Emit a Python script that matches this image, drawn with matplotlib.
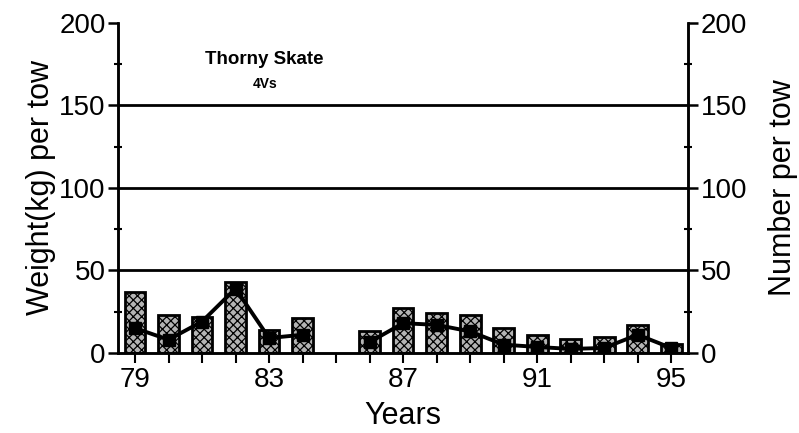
import numpy as np
import matplotlib.pyplot as plt
from matplotlib.ticker import MultipleLocator

plt.rcParams['font.family'] = ['Liberation Sans', 'DejaVu Sans']
plt.rcParams['hatch.linewidth'] = 0.9

# survey years (no tow data in 1985)
years = [79, 80, 81, 82, 83, 84, 85, 86, 87, 88, 89, 90, 91, 92, 93, 94, 95]
weight = [37, 23, 22, 43, 14, 21, np.nan, 13, 27, 24, 23, 15, 11, 8.5, 9.5, 17, 5.5]
number = [15, 8, 19, 39, 9, 11, np.nan, 6.5, 18, 17, 13, 5, 3.6, 2.4, 3, 11, 3]

fig = plt.figure(figsize=(7.99, 4.33), dpi=100)
ax = fig.add_axes([0.148, 0.185, 0.713, 0.762])

ax.bar(years, weight, width=0.62, facecolor='#b4b4b4', edgecolor='black',
       linewidth=2, hatch='xxxx', zorder=2)
ax.plot(years, number, color='black', lw=2.8, marker='s', markersize=9,
        zorder=3)

for g in (50, 100, 150):
    ax.axhline(g, color='black', lw=2, zorder=1)

ax.set_xlim(78.5, 95.5)
ax.set_ylim(0, 200)
ax.set_xticks([79, 83, 87, 91, 95])
ax.xaxis.set_minor_locator(MultipleLocator(1))

# right-hand axis carries the same 0-200 scale
ax2 = ax.twinx()
ax2.set_ylim(ax.get_ylim())
for a in (ax, ax2):
    a.yaxis.set_major_locator(MultipleLocator(50))
    a.yaxis.set_minor_locator(MultipleLocator(25))
    a.tick_params(axis='y', which='major', direction='out', length=7,
                  width=1.8, labelsize=20, pad=2)
    a.tick_params(axis='y', which='minor', direction='inout', length=6,
                  width=1.5)
    a.spines['top'].set_visible(False)
    for s in ('left', 'right', 'bottom'):
        a.spines[s].set_linewidth(1.8)

ax.tick_params(axis='x', which='both', direction='out', length=7, width=1.5,
               labelsize=20, pad=3)

ax.set_xlabel('Years', fontsize=22, labelpad=6)
ax.set_ylabel('Weight(kg) per tow', fontsize=22, labelpad=2)
ax2.set_ylabel('Number per tow', fontsize=22, labelpad=15)

ax.text(0.257, 0.888, 'Thorny Skate', transform=ax.transAxes, ha='center',
        va='center', fontsize=13.5, fontweight='bold')
ax.text(0.257, 0.815, '4Vs', transform=ax.transAxes, ha='center',
        va='center', fontsize=10, fontweight='bold')

fig.savefig('out.png', dpi=100)
